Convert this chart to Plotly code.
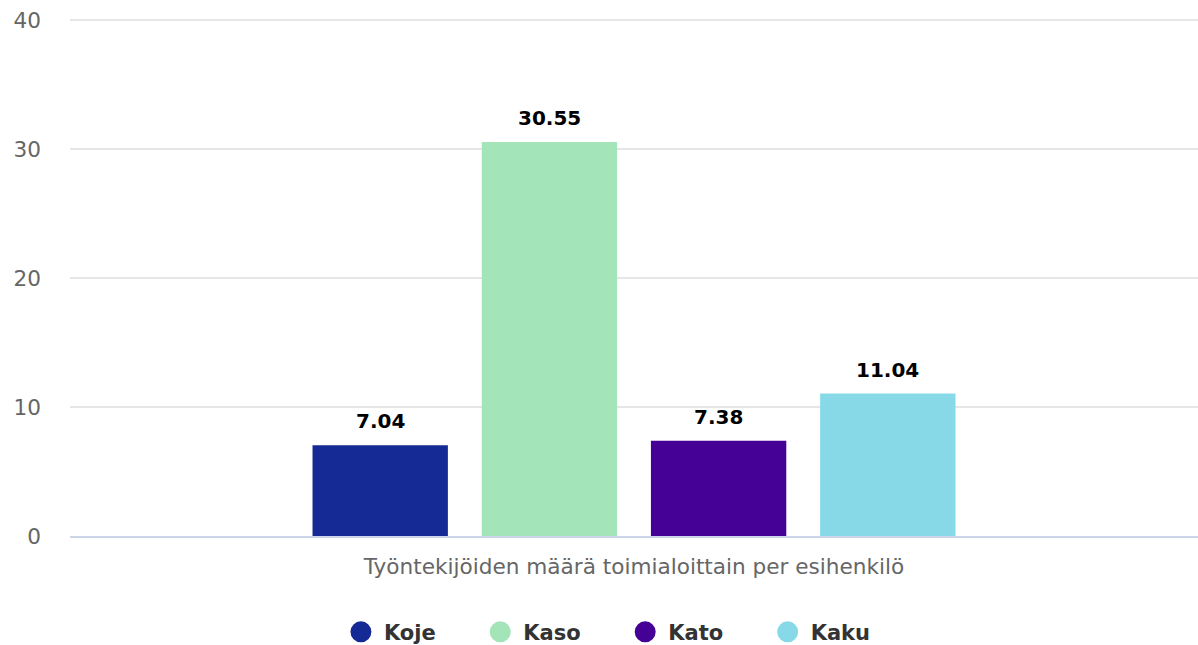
import plotly.graph_objects as go

category = ["Työntekijöiden määrä toimialoittain per esihenkilö"]
series_names = ["Koje", "Kaso", "Kato", "Kaku"]
series_values = [7.04, 30.55, 7.38, 11.04]
series_colors = ["#152a94", "#a3e4b9", "#450096", "#87d9e8"]
y_ticks = [0, 10, 20, 30, 40]

BARGAP = 0.4
n = len(series_names)
slot = (1 - BARGAP) / n
PAD = "\u00a0" * 5

fig = go.Figure()
for i, (name, val, col) in enumerate(zip(series_names, series_values, series_colors)):
    fig.add_trace(go.Bar(
        x=category, y=[val], name=name, marker_color=col,
        marker_line_width=0,
        showlegend=False, legendgroup=name,
    ))
    fig.add_trace(go.Scatter(
        x=[None], y=[None], mode="markers",
        name=name + (PAD if i < n - 1 else ""), legendgroup=name,
        marker=dict(symbol="circle", size=16, color=col,
                    line=dict(color=col, width=6)),
    ))
    fig.add_annotation(
        x=-(1 - BARGAP) / 2 + slot * (i + 0.5), y=val, xref="x", yref="y",
        text=f"{val:.2f}", showarrow=False, yanchor="middle", yshift=24,
        font=dict(family="DejaVu Sans", size=20, color="#000000", weight="bold"),
    )

fig.update_layout(
    width=1198, height=645,
    margin=dict(l=70, r=0, t=19, b=109, autoexpand=False),
    paper_bgcolor="white", plot_bgcolor="white",
    barmode="group", bargap=BARGAP, bargroupgap=0.2,
    font=dict(family="DejaVu Sans", color="#666666"),
    legend=dict(orientation="h", x=0.476, xanchor="center", y=-0.186, yanchor="middle",
                itemsizing="trace",
                font=dict(family="DejaVu Sans", size=21, color="#333333", weight="bold"),
                itemwidth=36, tracegroupgap=0),
    xaxis=dict(type="category", showline=True, linecolor="#ccd6eb", linewidth=2,
               tickfont=dict(size=21.6, color="#666666"), ticks="", showgrid=False,
               ticklabelstandoff=10),
    yaxis=dict(range=[0, 40.08], tickvals=y_ticks, gridcolor="#e6e6e6", gridwidth=1.5,
               zeroline=False, tickfont=dict(size=21.6, color="#666666"),
               ticks="", ticklabelstandoff=28),
)
fig.write_html("out.html", config={"displayModeBar": False},
               post_script="document.body.style.margin='0';")
